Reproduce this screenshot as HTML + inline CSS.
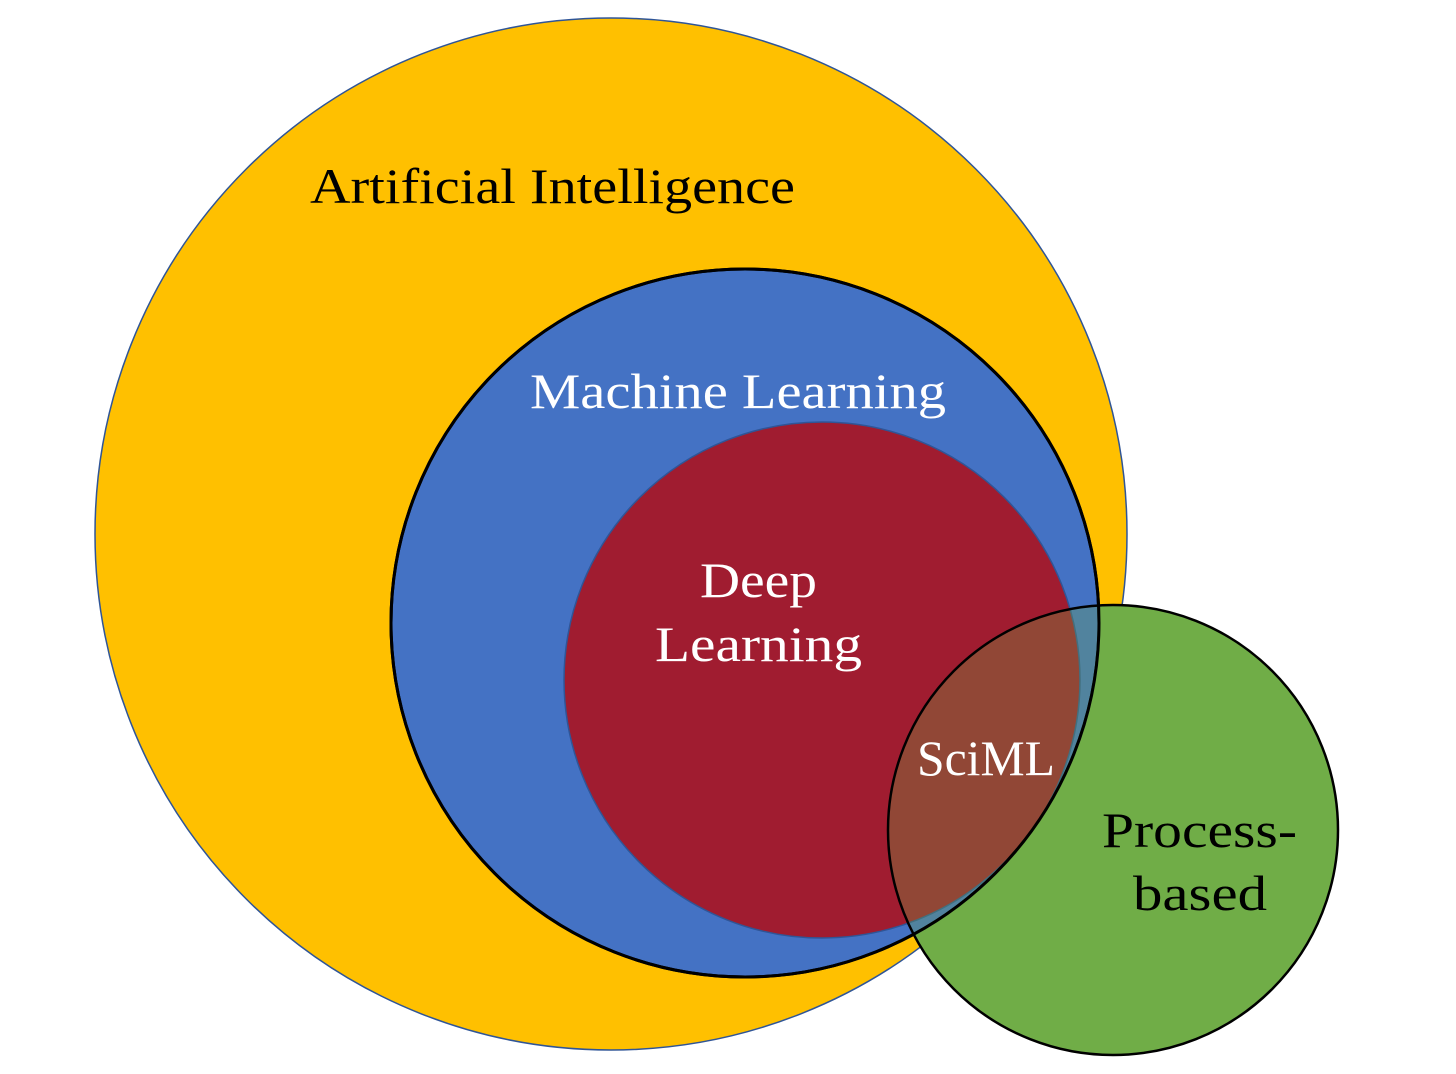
<!DOCTYPE html>
<html><head><meta charset="utf-8"><style>html,body{margin:0;padding:0;background:#fff}svg{display:block}</style></head>
<body>
<svg width="1456" height="1074" viewBox="0 0 1456 1074" xmlns="http://www.w3.org/2000/svg" font-family="'Liberation Serif', serif" font-size="50">
<circle cx="611" cy="534" r="516" fill="#ffc000" stroke="#2f5597" stroke-width="1.5"/>
<circle cx="745" cy="623" r="354" fill="#4472c4" stroke="#000" stroke-width="3"/>
<circle cx="822" cy="680" r="258" fill="#a01c30" stroke="#2f5597" stroke-width="1.5"/>
<circle cx="1113" cy="830" r="225" fill="#70ad47" fill-opacity="0.3" stroke="none"/>
<clipPath id="c"><circle cx="745" cy="623" r="354"/></clipPath>
<clipPath id="o"><rect x="0" y="0" width="1456" height="1074"/></clipPath>
<path d="M0,0H1456V1074H0Z M1099,623 A354,354 0 1 0 1099,623.1Z" fill="none"/>
<mask id="m"><rect width="1456" height="1074" fill="#fff"/><circle cx="745" cy="623" r="354" fill="#000"/></mask>
<circle cx="1113" cy="830" r="225" fill="#70ad47" mask="url(#m)"/>
<circle cx="745" cy="623" r="354" fill="none" stroke="#000" stroke-width="3"/>
<circle cx="1113" cy="830" r="225" fill="none" stroke="#000" stroke-width="2.5"/>
<text x="310" y="203" textLength="485" lengthAdjust="spacingAndGlyphs" fill="#000">Artificial Intelligence</text>
<text x="530" y="408" textLength="416" lengthAdjust="spacingAndGlyphs" fill="#fff">Machine Learning</text>
<text x="700" y="597" textLength="117" lengthAdjust="spacingAndGlyphs" fill="#fff">Deep</text>
<text x="655" y="661" textLength="207" lengthAdjust="spacingAndGlyphs" fill="#fff">Learning</text>
<text x="917" y="775" textLength="138" lengthAdjust="spacingAndGlyphs" fill="#fff">SciML</text>
<text x="1102" y="847" textLength="195" lengthAdjust="spacingAndGlyphs" fill="#000">Process-</text>
<text x="1133" y="910" textLength="134" lengthAdjust="spacingAndGlyphs" fill="#000">based</text>
</svg>
</body></html>
